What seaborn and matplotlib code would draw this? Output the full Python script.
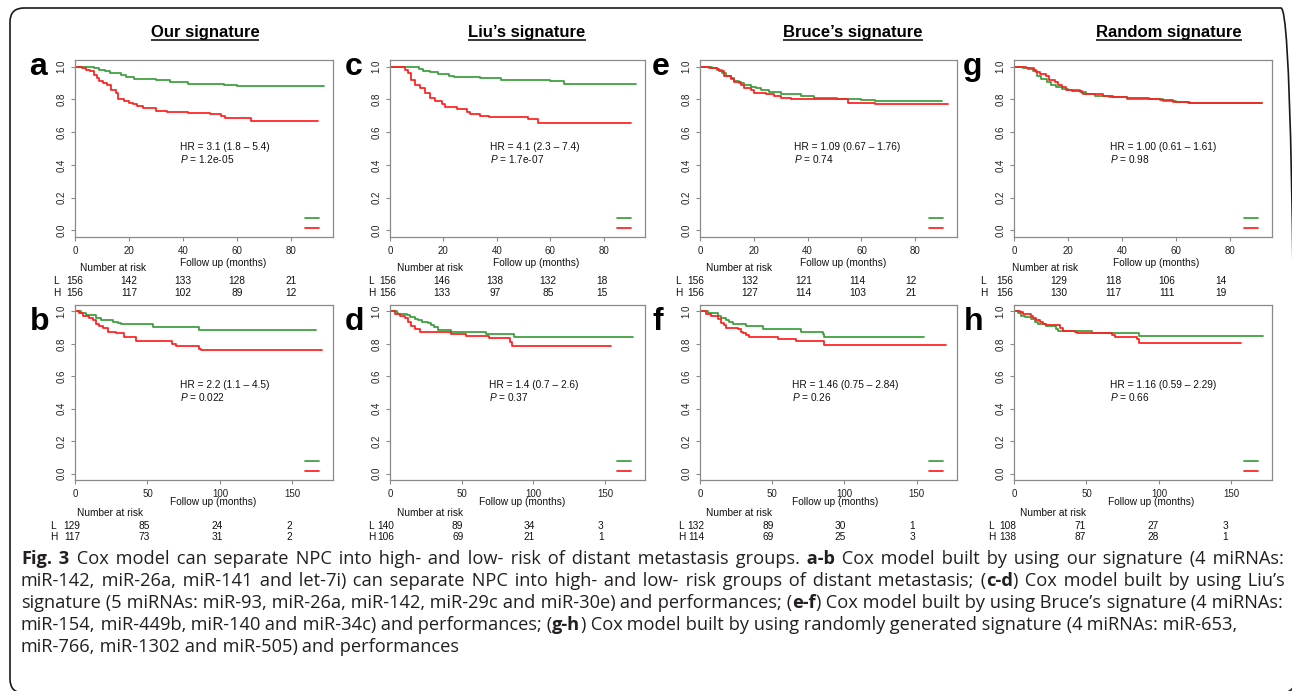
import matplotlib
matplotlib.use("Agg")
import matplotlib.pyplot as plt
import matplotlib.transforms as mtransforms
from matplotlib import font_manager
from matplotlib.lines import Line2D
from matplotlib.patches import FancyBboxPatch
import pandas as pd
import seaborn as sns

# ---------------------------------------------------------------- data
titles = ["Our signature", "Liu\u2019s signature", "Bruce\u2019s signature", "Random signature"]
letters_top = ["a", "c", "e", "g"]
letters_bottom = ["b", "d", "f", "h"]
yticks = [0.0, 0.2, 0.4, 0.6, 0.8, 1.0]
xticks_top = [0, 20, 40, 60, 80]
xticks_bottom = [0, 50, 100, 150]

# Kaplan-Meier step points (time in months, survival)
a_L_time = [0, 7, 9, 11, 13, 17, 19, 22, 30, 35, 42, 55, 60, 92]
a_L_surv = [1.0, 0.99, 0.98, 0.97, 0.96, 0.95, 0.935, 0.925, 0.915, 0.905, 0.895, 0.885, 0.88, 0.88]
a_H_time = [0, 2.5, 4, 5.5, 7, 8, 9, 10.5, 12, 13.5, 15, 16, 18, 20, 21.5, 23, 25, 30, 34, 42, 50, 54, 55.5, 65, 90]
a_H_surv = [1.0, 0.99, 0.98, 0.97, 0.95, 0.93, 0.91, 0.90, 0.89, 0.86, 0.84, 0.80, 0.79, 0.78, 0.77, 0.76, 0.75,
            0.73, 0.72, 0.715, 0.71, 0.70, 0.685, 0.67, 0.67]

c_L_time = [0, 3.7, 11, 12.5, 15, 18, 22, 24, 33.6, 41.7, 43, 60, 65, 92]
c_L_surv = [1.0, 0.995, 0.985, 0.975, 0.965, 0.955, 0.945, 0.935, 0.93, 0.92, 0.915, 0.91, 0.895, 0.895]
c_H_time = [0, 3, 5.6, 6.9, 8, 9.3, 11.2, 13, 15, 16.8, 19.3, 20.6, 25, 28.7, 30, 33.6, 37, 50, 51.7, 55.5, 90.3]
c_H_surv = [1.0, 0.995, 0.98, 0.96, 0.92, 0.89, 0.87, 0.84, 0.81, 0.79, 0.77, 0.755, 0.74, 0.725, 0.71, 0.70,
            0.695, 0.69, 0.68, 0.655, 0.655]

e_L_time = [0, 2.7, 4.6, 6.5, 8.3, 9.6, 11.4, 12.7, 14.5, 16.4, 18.9, 20.7, 22.6, 25.7, 30, 33.8, 37.5, 42.5,
            51, 55, 60, 65, 90]
e_L_surv = [1.0, 0.995, 0.99, 0.98, 0.96, 0.94, 0.93, 0.91, 0.90, 0.885, 0.875, 0.87, 0.86, 0.845, 0.835, 0.83,
            0.82, 0.81, 0.805, 0.80, 0.795, 0.79, 0.79]
e_H_time = [0, 1.5, 3.4, 6.5, 7, 9, 11.4, 12.7, 15.2, 16.4, 18.9, 20, 24.5, 27.6, 30, 33.8, 51, 55, 65, 92]
e_H_surv = [1.0, 0.995, 0.99, 0.985, 0.97, 0.94, 0.925, 0.905, 0.89, 0.87, 0.86, 0.84, 0.83, 0.82, 0.81, 0.805,
            0.80, 0.78, 0.77, 0.77]

g_L_time = [0, 2.1, 3.3, 5.2, 7, 8.5, 10.1, 12.2, 13.8, 15.7, 17.6, 20, 24.4, 26.8, 30, 35, 42, 50, 55, 60, 65, 91.7]
g_L_surv = [1.0, 0.995, 0.99, 0.985, 0.97, 0.94, 0.925, 0.905, 0.89, 0.875, 0.865, 0.855, 0.845, 0.835, 0.82,
            0.815, 0.805, 0.80, 0.79, 0.785, 0.78, 0.78]
g_H_time = [0, 2.7, 4.6, 7.3, 8.3, 9.5, 12, 13, 15, 16.3, 17.6, 19.4, 21.3, 25, 25.6, 30, 33, 36.7, 41.7, 50, 54,
            59, 64.5, 91.7]
g_H_surv = [1.0, 0.995, 0.99, 0.98, 0.965, 0.955, 0.94, 0.915, 0.905, 0.89, 0.875, 0.86, 0.85, 0.84, 0.835, 0.83,
            0.82, 0.815, 0.81, 0.805, 0.795, 0.785, 0.775, 0.775]

b_L_time = [0, 4.1, 7.6, 14.5, 18, 26, 29.4, 31.7, 53.5, 85.7, 166]
b_L_surv = [1.0, 0.99, 0.98, 0.96, 0.945, 0.935, 0.93, 0.92, 0.905, 0.885, 0.885]
b_H_time = [0, 3, 5.3, 9.9, 12.2, 14.5, 16.8, 19, 22.5, 28, 34, 42, 67, 69.6, 79, 85.7, 86.8, 170.7]
b_H_surv = [1.0, 0.99, 0.975, 0.96, 0.945, 0.925, 0.91, 0.895, 0.875, 0.865, 0.845, 0.82, 0.80, 0.79, 0.785,
            0.77, 0.76, 0.76]

d_L_time = [0, 4.6, 5.8, 12, 13.8, 17.3, 19.6, 22, 26.5, 28.8, 31, 33.5, 42.7, 67, 86.5, 169.6]
d_L_surv = [1.0, 0.99, 0.985, 0.98, 0.965, 0.955, 0.945, 0.935, 0.93, 0.915, 0.905, 0.885, 0.875, 0.86, 0.845, 0.845]
d_H_time = [0, 3.5, 6.9, 10.4, 12.7, 15, 17.3, 20.8, 42.7, 53, 69, 84, 85, 154.6]
d_H_surv = [1.0, 0.985, 0.97, 0.96, 0.935, 0.91, 0.89, 0.875, 0.86, 0.85, 0.835, 0.81, 0.79, 0.79]

f_L_time = [0, 5.3, 12.2, 14.5, 18, 20.3, 22.6, 31.8, 43.4, 70, 85, 86, 155.3]
f_L_surv = [1.0, 0.99, 0.975, 0.96, 0.95, 0.935, 0.925, 0.91, 0.89, 0.875, 0.86, 0.845, 0.845]
f_H_time = [0, 4.2, 7.6, 12.2, 14.5, 16.8, 18, 26, 28.4, 29.5, 31.8, 34, 52.6, 53.8, 66.5, 86, 170.3]
f_H_surv = [1.0, 0.985, 0.97, 0.955, 0.93, 0.915, 0.90, 0.89, 0.875, 0.865, 0.855, 0.845, 0.84, 0.83, 0.815,
            0.795, 0.795]

h_L_time = [0, 2.8, 5.1, 7.4, 12, 14.3, 16.6, 22.4, 29.3, 30.5, 53.6, 67.5, 86, 171.5]
h_L_surv = [1.0, 0.99, 0.975, 0.965, 0.955, 0.935, 0.92, 0.91, 0.89, 0.88, 0.87, 0.865, 0.85, 0.85]
h_H_time = [0, 3.9, 6.2, 12, 13.2, 15.5, 17.8, 20, 22.4, 31.7, 34, 42, 43.2, 67.5, 69.8, 85, 86, 156.5]
h_H_surv = [1.0, 0.995, 0.985, 0.975, 0.96, 0.945, 0.935, 0.925, 0.915, 0.895, 0.88, 0.875, 0.865, 0.855, 0.84,
            0.83, 0.805, 0.805]

hr_labels = {
    "a": "HR = 3.1 (1.8 \u2013 5.4)", "c": "HR = 4.1 (2.3 \u2013 7.4)",
    "e": "HR = 1.09 (0.67 \u2013 1.76)", "g": "HR = 1.00 (0.61 \u2013 1.61)",
    "b": "HR = 2.2 (1.1 \u2013 4.5)", "d": "HR = 1.4 (0.7 \u2013 2.6)",
    "f": "HR = 1.46 (0.75 \u2013 2.84)", "h": "HR = 1.16 (0.59 \u2013 2.29)",
}
p_values = {"a": "1.2e-05", "c": "1.7e-07", "e": "0.74", "g": "0.98",
            "b": "0.022", "d": "0.37", "f": "0.26", "h": "0.66"}

risk_L = {"a": [156, 142, 133, 128, 21], "c": [156, 146, 138, 132, 18],
          "e": [156, 132, 121, 114, 12], "g": [156, 129, 118, 106, 14],
          "b": [129, 85, 24, 2], "d": [140, 89, 34, 3], "f": [132, 89, 30, 1], "h": [108, 71, 27, 3]}
risk_H = {"a": [156, 117, 102, 89, 12], "c": [156, 133, 97, 85, 15],
          "e": [156, 127, 114, 103, 21], "g": [156, 130, 117, 111, 19],
          "b": [117, 73, 31, 2], "d": [106, 69, 21, 1], "f": [114, 69, 25, 3], "h": [138, 87, 28, 1]}

curves = {
    "a": (a_L_time, a_L_surv, a_H_time, a_H_surv), "c": (c_L_time, c_L_surv, c_H_time, c_H_surv),
    "e": (e_L_time, e_L_surv, e_H_time, e_H_surv), "g": (g_L_time, g_L_surv, g_H_time, g_H_surv),
    "b": (b_L_time, b_L_surv, b_H_time, b_H_surv), "d": (d_L_time, d_L_surv, d_H_time, d_H_surv),
    "f": (f_L_time, f_L_surv, f_H_time, f_H_surv), "h": (h_L_time, h_L_surv, h_H_time, h_H_surv),
}

caption_lines = [
    [("Fig. 3", True), (" Cox model can separate NPC into high- and low- risk of distant metastasis groups.", False),
     (" a-b", True), (" Cox model built by using our signature (4 miRNAs:", False)],
    [("miR-142, miR-26a, miR-141 and let-7i) can separate NPC into high- and low- risk groups of distant metastasis; (", False),
     ("c-d", True), (") Cox model built by using Liu\u2019s", False)],
    [("signature (5 miRNAs: miR-93, miR-26a, miR-142, miR-29c and miR-30e) and performances; (", False),
     ("e-f", True), (") Cox model built by using Bruce\u2019s signature (4 miRNAs:", False)],
    [("miR-154, miR-449b, miR-140 and miR-34c) and performances; (", False),
     ("g-h", True), (") Cox model built by using randomly generated signature (4 miRNAs: miR-653,", False)],
    [("miR-766, miR-1302 and miR-505) and performances", False)],
]

# ---------------------------------------------------------------- style
W, H, DPI = 1292, 691, 100
sns.set_style("ticks")
plt.rcParams["font.family"] = ["Liberation Sans", "DejaVu Sans"]
plt.rcParams["mathtext.fontset"] = "custom"
plt.rcParams["mathtext.rm"] = "Liberation Sans"
plt.rcParams["mathtext.it"] = "Liberation Sans:italic"

GREEN = "#3a9c3a"
RED = "#ff1f1f"
FRAME = "#8a8a8a"
SMALL = 7.3

# choose a semi-condensed humanist face for the caption if one is installed
_entries = font_manager.fontManager.ttflist
_cands = [("Open Sans", "semi-condensed"), ("Open Sans SemiCondensed", None),
          ("Open Sans Semi Condensed", None), ("Noto Sans", "semi-condensed"),
          ("Noto Sans SemiCondensed", None), ("Open Sans", "normal")]
CAP_FAMILY, CAP_STRETCH = "Open Sans", "normal"
for fam, st in _cands:
    if any(e.name == fam and (st is None or str(e.stretch) == st) for e in _entries):
        CAP_FAMILY, CAP_STRETCH = fam, (st if st is not None else "normal")
        break

fig = plt.figure(figsize=(W / DPI, H / DPI), dpi=DPI)
fig.patch.set_facecolor("white")

# full-figure overlay in pixel units (y measured upward)
over = fig.add_axes([0, 0, 1, 1], zorder=-1)
over.set_xlim(0, W)
over.set_ylim(0, H)
over.set_axis_off()
over.patch.set_visible(False)


def fy(py):
    return 1 - py / H


col_left = [75, 390, 700, 1014]
col_right = [333, 645, 957, 1272]
title_cx = [205, 527, 853, 1169]
letter_x = {"a": 29, "c": 345, "e": 652, "g": 963, "b": 30, "d": 345, "f": 652, "h": 964}
lh_x = {"a": 53, "c": 368, "e": 675, "g": 980, "b": 50, "d": 368, "f": 678, "h": 988}
nar_x = {"a": 113, "c": 430, "e": 739, "g": 1045, "b": 110, "d": 430, "f": 739, "h": 1053}
fu_x = {"a": 223, "c": 536, "e": 843, "g": 1156, "b": 213, "d": 522, "f": 835, "h": 1151}
num_dx = {"a": 0, "c": -2, "e": -4, "g": -9, "b": -3, "d": -4, "f": -4, "h": -6}
hr_pos = {"a": (39, 0.51), "c": (37.4, 0.51), "e": (35, 0.51), "g": (35.6, 0.51),
          "b": (72.6, 0.547), "d": (69, 0.547), "f": (64, 0.547), "h": (66, 0.547)}

rows = [
    dict(letters=letters_top, top=60, bottom=237, xmax=95.5, xticks=xticks_top,
         letter_base=75, fu_y=263, nar_y=268, L_y=281, H_y=293),
    dict(letters=letters_bottom, top=305, bottom=480, xmax=178, xticks=xticks_bottom,
         letter_base=330, fu_y=502, nar_y=513, L_y=526, H_y=537),
]

for r in rows:
    for ci, key in enumerate(r["letters"]):
        l, rr = col_left[ci], col_right[ci]
        ax = fig.add_axes([l / W, fy(r["bottom"]), (rr - l) / W, (r["bottom"] - r["top"]) / H])
        Lt, Ls, Ht, Hs = curves[key]
        df = pd.concat([
            pd.DataFrame({"time": Lt, "surv": Ls, "group": "L"}),
            pd.DataFrame({"time": Ht, "surv": Hs, "group": "H"}),
        ], ignore_index=True)
        sns.lineplot(data=df, x="time", y="surv", hue="group", palette={"L": GREEN, "H": RED},
                     estimator=None, sort=False, drawstyle="steps-post", lw=1.25, legend=False, ax=ax)
        ax.set_xlabel("")
        ax.set_ylabel("")
        ax.set_xlim(0, r["xmax"])
        ax.set_ylim(-0.04, 1.04)
        ax.set_xticks(r["xticks"])
        ax.set_xticklabels([str(v) for v in r["xticks"]])
        ax.set_yticks(yticks)
        ax.set_yticklabels([f"{v:.1f}" for v in yticks], rotation=90, va="center")
        ax.tick_params(direction="out", length=3.2, width=0.8, color=FRAME, labelsize=7,
                       labelcolor="#222222", pad=3)
        for sp in ax.spines.values():
            sp.set_visible(True)
            sp.set_color(FRAME)
            sp.set_linewidth(0.9)
        # legend keys (no labels, as in the original)
        ax.legend(handles=[Line2D([], [], color=GREEN, lw=1.25), Line2D([], [], color=RED, lw=1.25)],
                  labels=["", ""], loc="lower right", bbox_to_anchor=(0.945, 0.02), frameon=False,
                  fontsize=7, handlelength=1.45, handletextpad=0.0, borderpad=0, borderaxespad=0,
                  labelspacing=0.05)
        # HR and P
        hx, hy = hr_pos[key]
        ax.text(hx, hy, hr_labels[key], fontsize=SMALL, ha="left", va="center", color="#111111")
        ax.text(hx, hy - 0.074, r"$P$ = " + p_values[key], fontsize=SMALL, ha="left", va="center",
                color="#111111")
        # panel letter
        fig.text(letter_x[key] / W, fy(r["letter_base"]), key, fontsize=23, fontweight="bold",
                 ha="left", va="baseline", color="black")
        # axis label and risk table
        fig.text(fu_x[key] / W, fy(r["fu_y"]), "Follow up (months)", fontsize=SMALL, ha="center",
                 va="center", color="#111111")
        fig.text(nar_x[key] / W, fy(r["nar_y"]), "Number at risk", fontsize=SMALL, ha="center",
                 va="center", color="#111111")
        fig.text(lh_x[key] / W, fy(r["L_y"]), "L", fontsize=SMALL, ha="left", va="center", color="#111111")
        fig.text(lh_x[key] / W, fy(r["H_y"]), "H", fontsize=SMALL, ha="left", va="center", color="#111111")
        tr = mtransforms.blended_transform_factory(ax.transData, fig.transFigure) + \
            mtransforms.ScaledTranslation(num_dx[key] / DPI, 0, fig.dpi_scale_trans)
        for xv, nl, nh in zip(r["xticks"], risk_L[key], risk_H[key]):
            ax.text(xv, fy(r["L_y"]), str(nl), transform=tr, fontsize=SMALL, ha="center", va="center",
                    color="#111111")
            ax.text(xv, fy(r["H_y"]), str(nh), transform=tr, fontsize=SMALL, ha="center", va="center",
                    color="#111111")

# column titles
title_artists = []
for cx, t in zip(title_cx, titles):
    title_artists.append(fig.text(cx / W, fy(37.5), t, fontsize=12, fontweight="bold",
                                  ha="center", va="baseline", color="black"))

# rounded outer border (right and bottom edges fall just outside the image)
over.add_patch(FancyBboxPatch((10, -2), 1285, H - 8 + 2, boxstyle="round,pad=0,rounding_size=14",
                              fill=False, edgecolor="#1a1a1a", lw=1.2, clip_on=False))

# caption (justified lines 1-3, like the journal layout)
CAP_X0 = 21
cap_baseline = [564, 586, 608, 630, 652]
cap_right = [1284, 1285, 1283]


def tokenize(line):
    toks = []
    for txt, bold in line:
        parts = txt.split(" ")
        for j, p in enumerate(parts):
            if j == 0:
                if p:
                    toks.append((p, bold, False))
            else:
                toks.append((" " + p, bold, True))
    return toks


cap_tokens = [tokenize(line) for line in caption_lines]


def draw_caption(fs, extras):
    arts, line_ends = [], []
    for i, toks in enumerate(cap_tokens):
        prev = None
        for word, bold, sp in toks:
            kw = dict(fontsize=fs, fontweight="bold" if bold else "normal",
                      family=[CAP_FAMILY, "DejaVu Sans"], fontstretch=CAP_STRETCH,
                      color="#231f20", ha="left")
            if prev is None:
                t = over.text(CAP_X0, H - cap_baseline[i], word, va="baseline", **kw)
            else:
                t = over.annotate(word, xy=(1, 0), xycoords=prev, xytext=(extras[i] if sp else 0, 0),
                                  textcoords="offset pixels", va="bottom", **kw)
            arts.append(t)
            prev = t
        line_ends.append(prev)
    return arts, line_ends


zero = [0.0] * len(cap_tokens)
fs0 = 11.0
arts, ends = draw_caption(fs0, zero)
fig.canvas.draw()
ratio = min((cap_right[i] - CAP_X0) / (ends[i].get_window_extent().x1 - CAP_X0) for i in range(3))
for a in arts:
    a.remove()
fs1 = min(fs0 * ratio, 14.0)
arts, ends = draw_caption(fs1, zero)
fig.canvas.draw()
extras = []
for i, toks in enumerate(cap_tokens):
    n_sp = sum(1 for tk in toks if tk[2])
    if i < 3 and n_sp:
        natural = ends[i].get_window_extent().x1
        extras.append(max(0.0, (cap_right[i] - natural) / n_sp))
    else:
        extras.append(0.0)
for a in arts:
    a.remove()
arts, ends = draw_caption(fs1, extras)

# underline titles
fig.canvas.draw()
for t in title_artists:
    bb = t.get_window_extent()
    over.plot([bb.x0, bb.x1], [H - 39.8, H - 39.8], color="black", lw=1.1, solid_capstyle="butt")

fig.savefig("out.png", dpi=DPI)
